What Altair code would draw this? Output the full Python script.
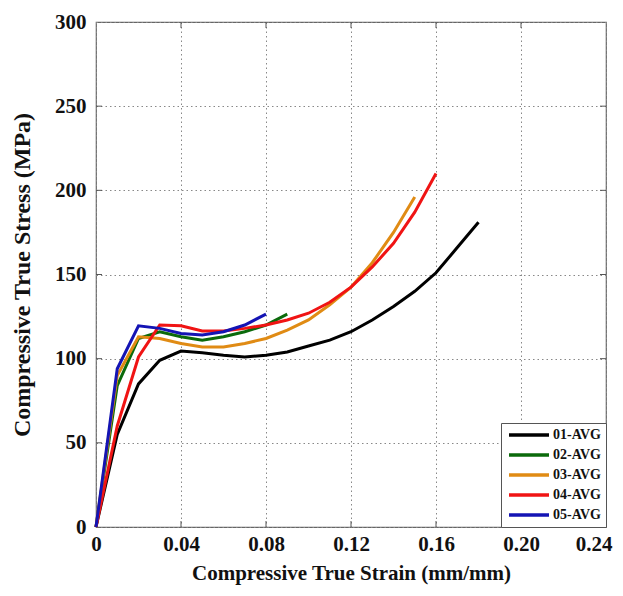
import altair as alt
import pandas as pd

# ---- data ----
strain_01 = [0, 0.01, 0.02, 0.03, 0.04, 0.05, 0.06, 0.07, 0.08, 0.09, 0.10, 0.11, 0.12, 0.13, 0.14, 0.15, 0.16, 0.17, 0.18]
stress_01 = [0, 55, 85, 99, 104.5, 103.5, 102, 101, 102, 104, 107.5, 111, 116, 123, 131, 140, 151, 166, 181]

strain_02 = [0, 0.01, 0.02, 0.03, 0.04, 0.05, 0.06, 0.07, 0.08, 0.09]
stress_02 = [0, 84, 112, 116, 113, 111, 113, 116, 120, 126.5]

strain_03 = [0, 0.01, 0.02, 0.03, 0.04, 0.05, 0.06, 0.07, 0.08, 0.09, 0.10, 0.11, 0.12, 0.13, 0.14, 0.15]
stress_03 = [0, 90, 113, 112, 109, 107, 107, 109, 112, 117, 123, 132, 142.5, 157, 175, 196]

strain_04 = [0, 0.01, 0.02, 0.03, 0.04, 0.05, 0.06, 0.07, 0.08, 0.09, 0.10, 0.11, 0.12, 0.13, 0.14, 0.15, 0.16]
stress_04 = [0, 60, 101, 120, 119.5, 116.5, 116.5, 118, 120, 123, 127, 133.5, 142.5, 154.5, 168.5, 187, 210]

strain_05 = [0, 0.01, 0.02, 0.03, 0.04, 0.05, 0.06, 0.07, 0.08]
stress_05 = [0, 94, 119.5, 118, 115, 114, 116, 120, 126.5]

series_names = ["01-AVG", "02-AVG", "03-AVG", "04-AVG", "05-AVG"]
series_colors = ["#000000", "#0b6a0b", "#e08b14", "#f01414", "#1414b4"]

x_ticks = [0, 0.04, 0.08, 0.12, 0.16, 0.20, 0.24]
y_ticks = [0, 50, 100, 150, 200, 250, 300]

# ---- build table ----
rows = []
for i, (name, xs, ys) in enumerate(zip(
        series_names,
        [strain_01, strain_02, strain_03, strain_04, strain_05],
        [stress_01, stress_02, stress_03, stress_04, stress_05])):
    for x, y in zip(xs, ys):
        rows.append({"series": name, "strain": x, "stress": y, "order": i})
df = pd.DataFrame(rows)

W, H = 510, 505
FONT = "Liberation Serif"

xscale = alt.Scale(domain=[0, 0.24], nice=False, zero=False)
yscale = alt.Scale(domain=[0, 300], nice=False)

lines = alt.Chart(df).mark_line(strokeWidth=3).encode(
    x=alt.X("strain:Q", scale=xscale,
            axis=alt.Axis(values=x_ticks, title="Compressive True Strain (mm/mm)",
                          labelExpr="datum.value == 0 ? '0' : format(datum.value, '.2f')",
                          labelAlign={"condition": {"test": "datum.value > 0.23", "value": "right"}, "value": "center"},
                          labelOffset={"condition": {"test": "datum.value > 0.23", "value": 6}, "value": 0},
                          grid=True, gridDash=[1.5, 3], gridColor="#888", gridWidth=1,
                          ticks=False, tickSize=0, domain=False,
                          labelFont=FONT, labelFontWeight="bold", labelFontSize=21, labelColor="#111",
                          labelPadding=6, labelFlush=False,
                          titleFont=FONT, titleFontWeight="bold", titleFontSize=21, titleColor="#111",
                          titlePadding=8)),
    y=alt.Y("stress:Q", scale=yscale,
            axis=alt.Axis(values=y_ticks, title="Compressive True Stress (MPa)",
                          grid=True, gridDash=[1.5, 3], gridColor="#888", gridWidth=1,
                          ticks=False, tickSize=0, domain=False,
                          labelFont=FONT, labelFontWeight="bold", labelFontSize=21, labelColor="#111",
                          labelPadding=10, labelFlush=False,
                          titleFont=FONT, titleFontWeight="bold", titleFontSize=24, titleColor="#111",
                          titlePadding=20)),
    color=alt.Color("series:N", scale=alt.Scale(domain=series_names, range=series_colors),
                    legend=alt.Legend(title=None, orient="bottom-right", offset=0,
                                      strokeColor="#555", fillColor="white", padding=5,
                                      symbolType="M-0.8,0H7.2", symbolSize=100, symbolStrokeWidth=3.5,
                                      labelExpr="datum.label + '\u00a0\u00a0\u00a0'",
                                      labelFont=FONT, labelFontWeight="bold", labelFontSize=14,
                                      labelColor="#111", labelOffset=33, rowPadding=6)),
    detail="series:N",
    order=alt.Order("strain:Q"),
)

xt_df = pd.DataFrame({"v": x_ticks[1:-1]})
yt_df = pd.DataFrame({"v": y_ticks[1:-1]})
tick_color = "#555"
bottom_ticks = alt.Chart(xt_df).mark_rule(color=tick_color).encode(
    x=alt.X("v:Q", scale=xscale), y=alt.value(H), y2=alt.value(H - 6))
top_ticks = alt.Chart(xt_df).mark_rule(color=tick_color).encode(
    x=alt.X("v:Q", scale=xscale), y=alt.value(0), y2=alt.value(6))
left_ticks = alt.Chart(yt_df).mark_rule(color=tick_color).encode(
    y=alt.Y("v:Q", scale=yscale), x=alt.value(0), x2=alt.value(6))
right_ticks = alt.Chart(yt_df).mark_rule(color=tick_color).encode(
    y=alt.Y("v:Q", scale=yscale), x=alt.value(W), x2=alt.value(W - 6))

chart = alt.layer(bottom_ticks, top_ticks, left_ticks, right_ticks, lines).properties(
    width=W, height=H,
    autosize=alt.AutoSizeParams(type="none"),
    padding={"left": 88, "top": 14, "right": 9, "bottom": 59},
    background="white",
).configure_view(stroke="#666", strokeWidth=1.2)

chart.save("out.html", embed_options={"renderer": "svg", "actions": False})
